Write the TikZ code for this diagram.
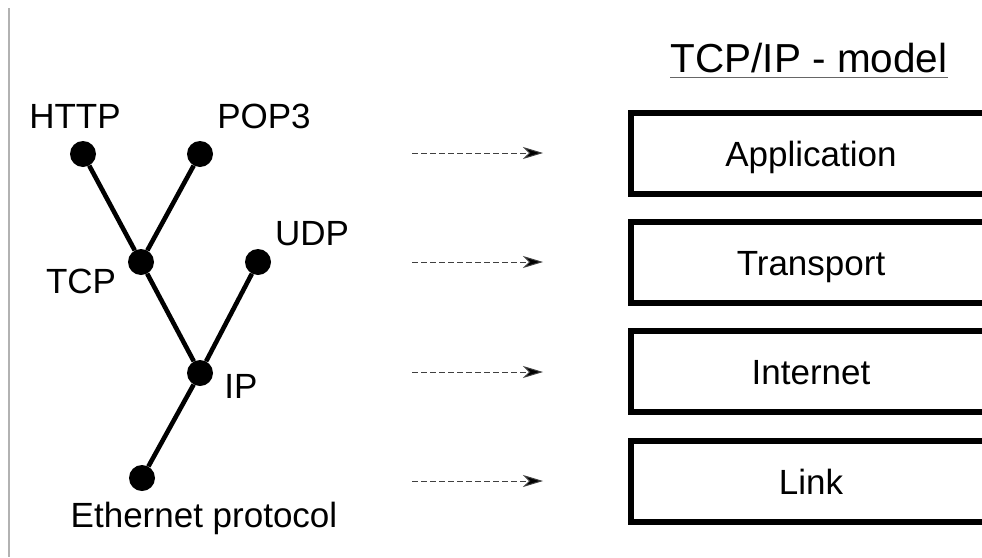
\documentclass[tikz,border=0pt]{standalone}
\usepackage{fontspec}
\setmainfont{Liberation Sans}
\usetikzlibrary{arrows.meta}

\tikzset{
  dot/.style={circle, fill=black, inner sep=0pt, minimum size=26pt},
  branch/.style={line width=4.6pt},
  lbl/.style={font=\fontsize{35}{40}\selectfont, inner sep=0pt, anchor=base},
  layer/.style={draw=black, line width=6pt, rectangle, minimum width=360pt,
    minimum height=81pt, inner sep=0pt, text height=25pt, text depth=0pt,
    font=\fontsize{35}{40}\selectfont},
  maparrow/.style={draw=black!75, line width=1pt, dash pattern=on 6pt off 3pt,
    -{Stealth[length=20pt, width=12pt, inset=6pt, fill=black]}}
}

\begin{document}
\begin{tikzpicture}[x=1pt, y=-1pt]
  \useasboundingbox (0,0) rectangle (982,557);
  \clip (0,0) rectangle (982,557);

  % thin rule at the left margin
  \draw[black!30, line width=1.5pt] (9,8) -- (9,557);

  % protocol tree
  \node[dot] (http) at (83,154) {};
  \node[dot] (pop)  at (200,154) {};
  \node[dot] (tcp)  at (141,262) {};
  \node[dot] (udp)  at (258,262) {};
  \node[dot] (ip)   at (200,373) {};
  \node[dot] (eth)  at (142,478) {};

  \draw[branch] (http) -- (tcp);
  \draw[branch] (pop) -- (tcp);
  \draw[branch] (tcp) -- (ip);
  \draw[branch] (udp) -- (ip);
  \draw[branch] (ip) -- (eth);

  \node[lbl] (httpl) at (75,128) {HTTP};
  \node[lbl] (popl)  at (264,128) {POP3};
  \node[lbl] (udpl)  at (312,245) {UDP};
  \node[lbl] (tcpl)  at (81,293) {TCP};
  \node[lbl] (ipl)   at (241,398) {IP};
  \node[lbl] (ethl)  at (204,527) {Ethernet protocol};

  % model title
  \node[lbl, font=\fontsize{40.5}{45}\selectfont] (title) at (809,72) {TCP/IP - model};
  \draw[black!60, line width=1.8pt] (670,77.5) -- (948,77.5);

  % layers of the model
  \node[layer] (app)   at (811,153.5) {Application};
  \node[layer] (trans) at (811,262.5) {Transport};
  \node[layer] (inet)  at (811,371.5) {Internet};
  \node[layer] (link)  at (811,481.5) {Link};

  % mapping arrows
  \coordinate (s1) at (412,153); \coordinate (e1) at (543,153);
  \coordinate (s2) at (412,262); \coordinate (e2) at (543,262);
  \coordinate (s3) at (412,372); \coordinate (e3) at (543,372);
  \coordinate (s4) at (412,481); \coordinate (e4) at (543,481);
  \draw[maparrow] (s1) -- (e1);
  \draw[maparrow] (s2) -- (e2);
  \draw[maparrow] (s3) -- (e3);
  \draw[maparrow] (s4) -- (e4);
\end{tikzpicture}
\end{document}
